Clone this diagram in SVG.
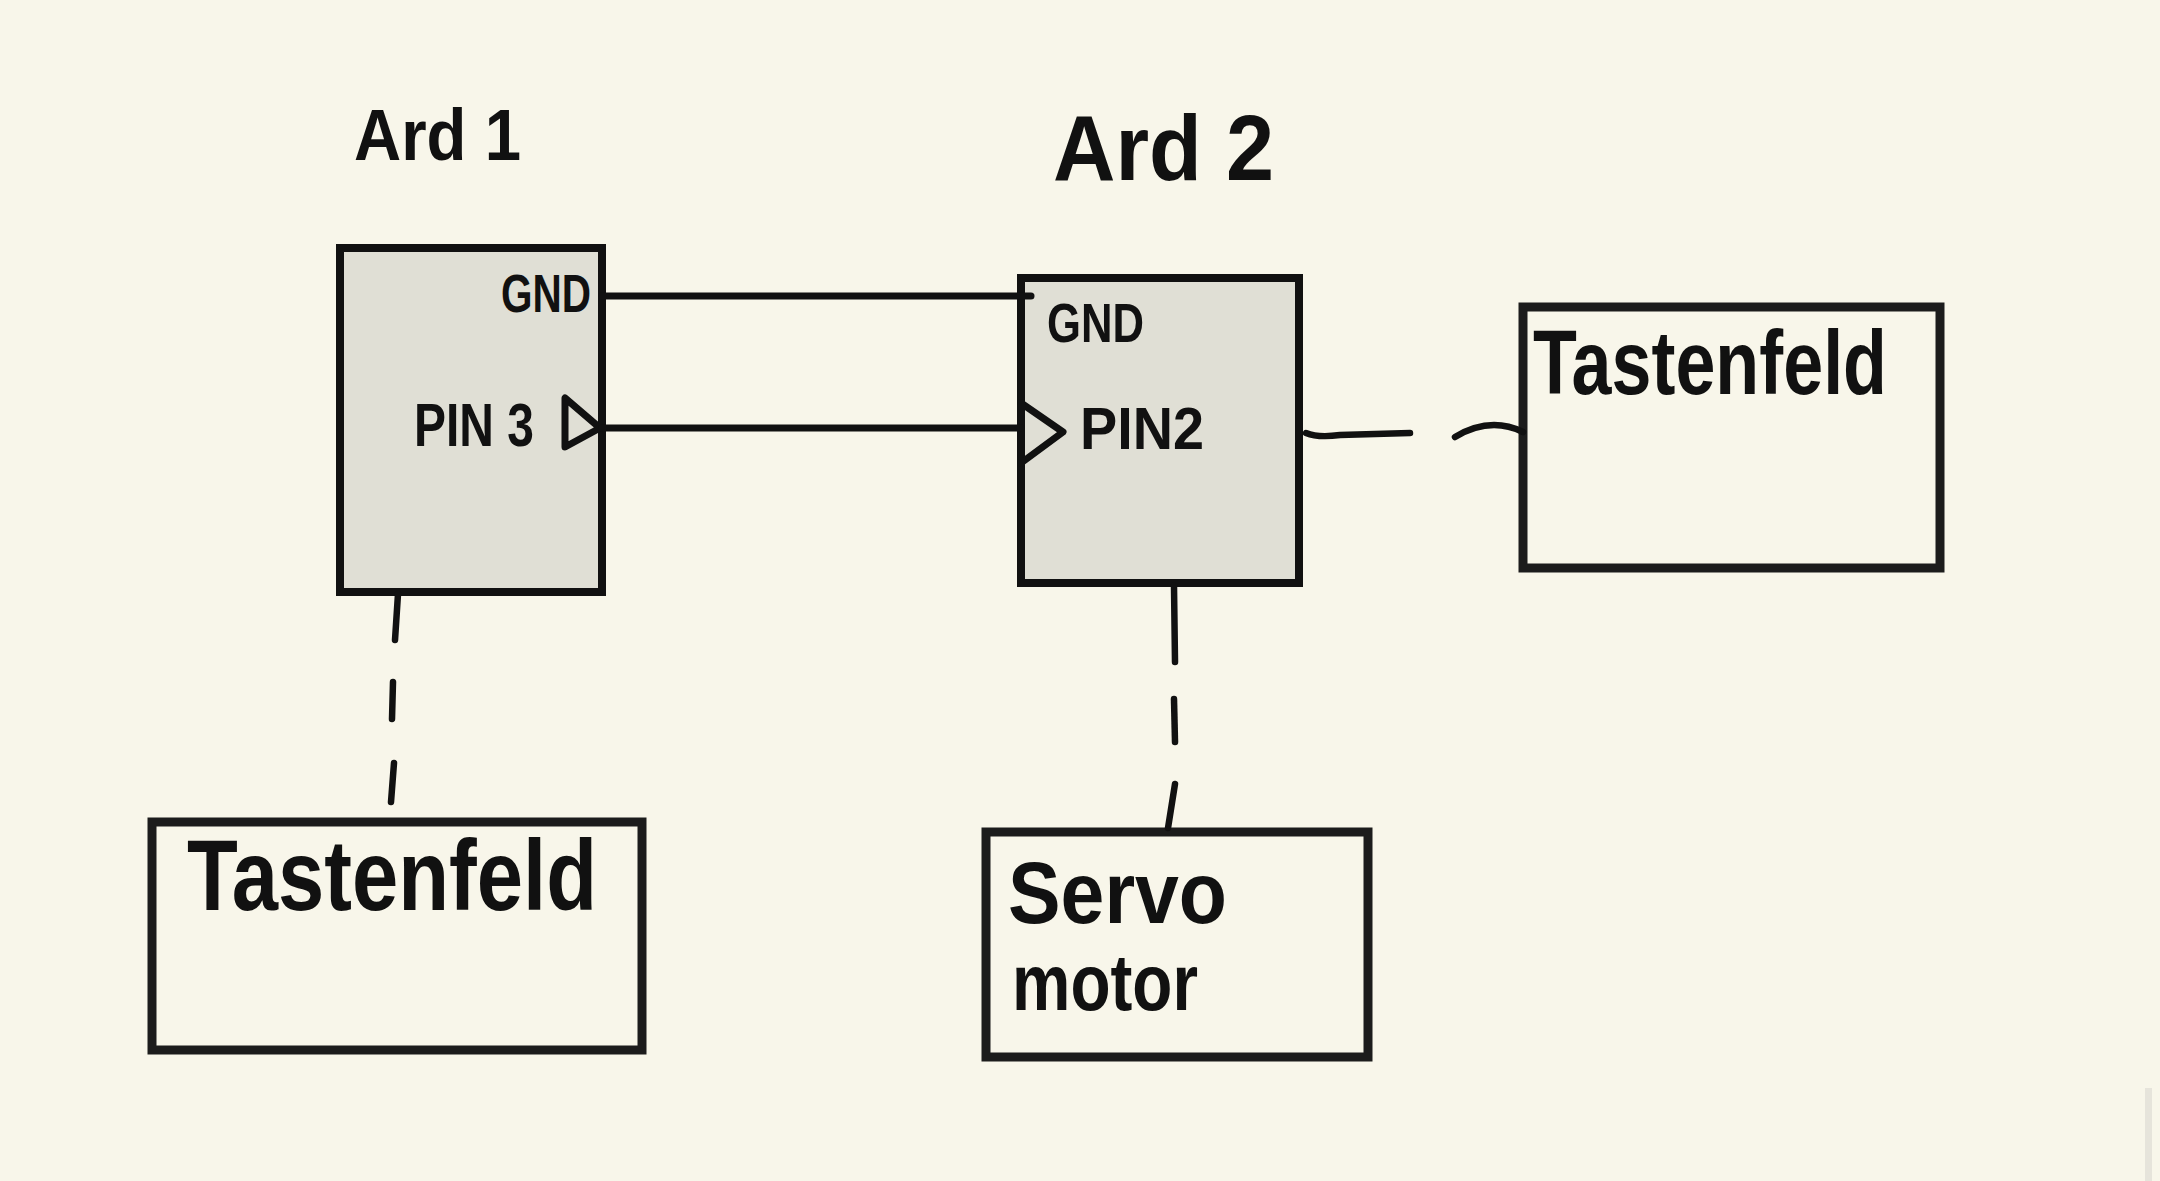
<svg xmlns="http://www.w3.org/2000/svg" width="2160" height="1181" viewBox="0 0 2160 1181">
<style>
.bg{fill:#f8f6ea}
.ard{fill:#e0dfd5;stroke:#111;stroke-width:8}
.box{fill:none;stroke:#1c1c1c;stroke-width:9}
.wire{fill:none;stroke:#111;stroke-width:7;stroke-linecap:round;stroke-linejoin:round}
.dash{fill:none;stroke:#111;stroke-width:6.5;stroke-linecap:round}
.t{font-family:"Liberation Sans","DejaVu Sans",sans-serif;font-weight:bold;fill:#111}
</style>
<rect class="bg" x="0" y="0" width="2160" height="1181"/>
<rect x="2145" y="1088" width="7" height="93" fill="#e6e4db"/>
<g id="label-ard1"><text class="t" x="354" y="160" font-size="72" textLength="167" lengthAdjust="spacingAndGlyphs">Ard 1</text></g>
<g id="label-ard2"><text class="t" x="1053" y="180" font-size="92" textLength="221" lengthAdjust="spacingAndGlyphs">Ard 2</text></g>
<g id="ard1">
<rect class="ard" x="340" y="248" width="262" height="344"/>
<text class="t" x="501" y="312" font-size="54" textLength="90" lengthAdjust="spacingAndGlyphs">GND</text>
<text class="t" x="414" y="446" font-size="62" textLength="120" lengthAdjust="spacingAndGlyphs">PIN 3</text>
<path class="wire" d="M565,398 L565,447 L600,428 Z"/>
</g>
<g id="ard2">
<rect class="ard" x="1021" y="278" width="278" height="305"/>
<text class="t" x="1047" y="342" font-size="56" textLength="97" lengthAdjust="spacingAndGlyphs">GND</text>
<text class="t" x="1080" y="449" font-size="60" textLength="124" lengthAdjust="spacingAndGlyphs">PIN2</text>
<path class="wire" d="M1021,403 L1063,432 L1021,463"/>
</g>
<g id="tastenfeld-right">
<rect class="box" x="1523" y="307" width="417" height="261"/>
<text class="t" x="1533" y="394" font-size="90" textLength="354" lengthAdjust="spacingAndGlyphs">Tastenfeld</text>
</g>
<g id="tastenfeld-left">
<rect class="box" x="152" y="822" width="490" height="228"/>
<text class="t" x="187" y="910" font-size="100" textLength="410" lengthAdjust="spacingAndGlyphs">Tastenfeld</text>
</g>
<g id="servo">
<rect class="box" x="986" y="832" width="382" height="225"/>
<text class="t" x="1008" y="923" font-size="88" textLength="219" lengthAdjust="spacingAndGlyphs">Servo</text>
<text class="t" x="1012" y="1010" font-size="80" textLength="186" lengthAdjust="spacingAndGlyphs">motor</text>
</g>
<g id="connectors">
<path class="wire" d="M602,296 L1031,296"/>
<path class="wire" d="M602,428 L1021,428"/>
<path class="dash" d="M398,594 L395,640"/>
<path class="dash" d="M393,682 L392,719"/>
<path class="dash" d="M394,763 L391,802"/>
<path class="dash" d="M1174,586 L1175,662"/>
<path class="dash" d="M1174,699 L1175,742"/>
<path class="dash" d="M1175,784 L1168,828"/>
<path class="dash" d="M1306,433 Q1318,438 1340,435 L1410,433"/>
<path class="dash" d="M1455,437 Q1490,416 1523,432"/>
</g>
</svg>
